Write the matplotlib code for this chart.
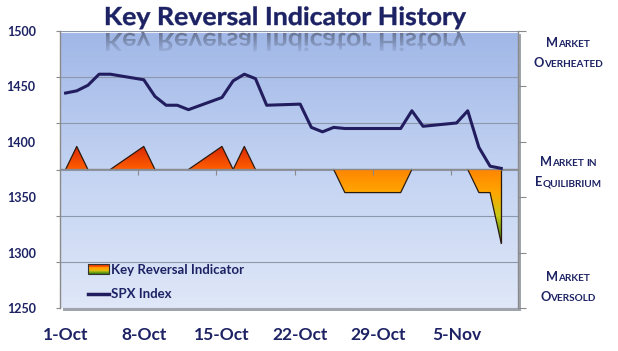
import datetime as dt

import numpy as np
import matplotlib
matplotlib.use("Agg")
import matplotlib.pyplot as plt
import matplotlib.dates as mdates
from matplotlib.colors import LinearSegmentedColormap
from matplotlib.patches import PathPatch, Rectangle
from matplotlib.lines import Line2D
from matplotlib.textpath import TextPath
from matplotlib.font_manager import FontProperties
from matplotlib.transforms import Affine2D
from matplotlib.offsetbox import TextArea, HPacker, VPacker, AnnotationBbox
from matplotlib.legend_handler import HandlerBase

# data
trade_dates = ["2012-10-01", "2012-10-02", "2012-10-03", "2012-10-04", "2012-10-05",
               "2012-10-08", "2012-10-09", "2012-10-10", "2012-10-11", "2012-10-12",
               "2012-10-15", "2012-10-16", "2012-10-17", "2012-10-18", "2012-10-19",
               "2012-10-22", "2012-10-23", "2012-10-24", "2012-10-25", "2012-10-26",
               "2012-10-31", "2012-11-01", "2012-11-02", "2012-11-05", "2012-11-06",
               "2012-11-07", "2012-11-08", "2012-11-09"]
spx = [1444, 1446, 1451, 1461, 1461,
       1456, 1441, 1433, 1433, 1429,
       1440, 1455, 1461, 1457, 1433,
       1434, 1413, 1409, 1413, 1412,
       1412, 1428, 1414, 1417, 1428,
       1395, 1378, 1376]
key_reversal = [0, 0.5, 0, 0, 0,
                0.5, 0, 0, 0, 0,
                0.5, 0, 0.5, 0, 0,
                0, 0, 0, 0, -0.5,
                -0.5, 0, 0, 0, 0,
                -0.5, -0.5, -1.6]
week_starts = ["2012-10-01", "2012-10-08", "2012-10-15", "2012-10-22", "2012-10-29", "2012-11-05"]
week_labels = ["1-Oct", "8-Oct", "15-Oct", "22-Oct", "29-Oct", "5-Nov"]
spx_ticks = [1250, 1300, 1350, 1400, 1450, 1500]
state_labels = [["Market", "Overheated"], ["Market in", "Equilibrium"], ["Market", "Oversold"]]

navy = "#1c2263"
axis_grey = "#8a8a8a"
W, H, DPI = 618, 351, 100
font = "Lato"

fig = plt.figure(figsize=(W / DPI, H / DPI), dpi=DPI)
fig.patch.set_facecolor("white")

# plot area in pixels: left, top, right, bottom
pl, pt, pr, pb = 60, 31, 518, 308
rect = [pl / W, (H - pb) / H, (pr - pl) / W, (pb - pt) / H]

# bevel shadow behind the plot area
fig.add_artist(Rectangle(((pl + 3) / W, (H - pb - 3) / H), (pr - pl) / W, (pb - pt) / H,
                         transform=fig.transFigure, facecolor="#a0a4ac", edgecolor="none", zorder=-1))

bg = fig.add_axes(rect, zorder=0)
grad = np.linspace(0, 1, 256)[:, None]
bg_cmap = LinearSegmentedColormap.from_list("bg", ["#dfe7f8", "#c3d3f2", "#a0b7e7"])
bg.imshow(grad, cmap=bg_cmap, aspect="auto", origin="lower", extent=[0, 1, 0, 1])
bg.axhline(0.997, color="white", lw=1.5, alpha=0.9)
bg.set_xlim(0, 1)
bg.set_ylim(0, 1)
bg.axis("off")

ax = fig.add_axes(rect, zorder=2)
ax.patch.set_visible(False)
ax2 = ax.twinx()
ax2.set_zorder(1)
ax2.patch.set_visible(False)

dates = [dt.date.fromisoformat(d) for d in trade_dates]
x = mdates.date2num(dates) + 0.5
x0 = mdates.date2num(dt.date(2012, 10, 1))
x1 = mdates.date2num(dt.date(2012, 11, 11))
weeks = mdates.date2num([dt.date.fromisoformat(d) for d in week_starts])

# key reversal indicator, gradient filled
kr = np.array(key_reversal, dtype=float)
poly = ax2.fill_between(x, 0, kr, facecolor="none", edgecolor="none", zorder=3)
ind_cmap = LinearSegmentedColormap.from_list(
    "kri", [(0.0, "#2f7a12"), (0.28, "#c8c814"), (0.52, "#ffa600"), (0.755, "#ff8600"),
            (0.765, "#ff5e00"), (1.0, "#da2806")])
im = ax2.imshow(np.linspace(0, 1, 256)[:, None], cmap=ind_cmap, aspect="auto", origin="lower",
                extent=[x0, x1, kr.min(), kr.max()], zorder=3)
im.set_clip_path(poly.get_paths()[0], transform=ax2.transData)
flat = np.zeros(len(kr), dtype=bool)
for i in range(len(kr)):
    prev_zero = i == 0 or kr[i - 1] == 0
    next_zero = i == len(kr) - 1 or kr[i + 1] == 0
    flat[i] = kr[i] == 0 and prev_zero and next_zero
ax2.plot(x, np.ma.masked_array(kr, flat), color="#2a1a10", lw=0.9, zorder=4)
ax2.vlines(x[-1], kr[-1], 0, color="#2a1a10", lw=0.9, zorder=4)

ax2.set_ylim(-3, 3)
ax2.set_yticks(np.arange(-3, 4))
ax2.set_axisbelow(True)
ax2.grid(axis="y", color="#8e98ad", lw=0.8)
ax2.yaxis.set_ticks_position("left")
ax2.tick_params(axis="y", left=True, right=False, labelleft=False, labelright=False,
                length=3, color=axis_grey, direction="out")
for s in ax2.spines.values():
    s.set_visible(False)

# SPX line
ax.plot(x, spx, color="#221d5e", lw=2.2, solid_joinstyle="round", zorder=5)
ax.set_xlim(x0, x1)
ax.set_ylim(spx_ticks[0], spx_ticks[-1])
ax.set_yticks(spx_ticks)
ax.set_yticklabels([str(v) for v in spx_ticks])
ax.tick_params(axis="y", left=False, right=True, labelleft=True, labelright=False,
               length=6, color=axis_grey, direction="out", pad=11.5,
               labelsize=9, labelcolor=navy)
ax.set_xticks(weeks + 0.5)
ax.set_xticklabels(week_labels)
ax.tick_params(axis="x", length=0, pad=14, labelsize=12.5, labelcolor=navy)
for lab in ax.get_yticklabels() + ax.get_xticklabels():
    lab.set_fontfamily(font)
    lab.set_fontweight("bold")
for side in ["top", "bottom"]:
    ax.spines[side].set_visible(False)
for side in ["left", "right"]:
    ax.spines[side].set_color(axis_grey)
    ax.spines[side].set_linewidth(1.0)

# category axis crossing at zero of the indicator
sec = ax.secondary_xaxis(0.5)
sec.set_alignment("bottom")
sec.set_xticks(weeks[1:])
sec.set_xticklabels([])
sec.tick_params(length=4, color=axis_grey, direction="out")
sec.spines["bottom"].set_color(axis_grey)
sec.spines["bottom"].set_linewidth(1.0)


# legend with a gradient swatch
class GradientSwatch(HandlerBase):
    def create_artists(self, legend, orig_handle, xdescent, ydescent, width, height, fontsize, trans):
        n = 12
        arts = []
        for i in range(n):
            c = ind_cmap(1 - (i + 0.5) / n)
            arts.append(Rectangle((-xdescent, -ydescent + height * (1 - (i + 1) / n)), width, height / n,
                                  facecolor=c, edgecolor="none", transform=trans))
        arts.append(Rectangle((-xdescent, -ydescent), width, height, fill=False,
                              edgecolor="#333333", lw=0.8, transform=trans))
        return arts


swatch = Rectangle((0, 0), 1, 1)
line_handle = Line2D([], [], color="#221d5e", lw=2.5)
leg = ax.legend([swatch, line_handle], ["Key Reversal Indicator", "SPX Index"],
                handler_map={swatch: GradientSwatch()},
                loc="lower left", bbox_to_anchor=(0.04, -0.005), frameon=False,
                prop=FontProperties(family=font, weight="bold", size=9.5),
                labelcolor=navy, handlelength=1.6, handletextpad=0.15,
                labelspacing=0.95, borderpad=0.2)

# title with a faded reflection
fp = FontProperties(family=font, weight="bold")
tp = TextPath((0, 0), "Key Reversal Indicator History", size=72, prop=fp)
ext = tp.get_extents()
cap = TextPath((0, 0), "K", size=72, prop=fp).get_extents()
sx = 360 / ext.width
sy = 18 / cap.height
cx, base = 286, H - 25
title_tr = Affine2D().translate(-ext.x0 - ext.width / 2, 0).scale(sx, sy).translate(cx, base)
fig.add_artist(PathPatch(tp, transform=title_tr, facecolor=navy, edgecolor=navy, lw=0.3, zorder=10))

mirror = H - 29
refl_tr = (Affine2D().translate(-ext.x0 - ext.width / 2, 0).scale(sx, -sy)
           .translate(cx, base).translate(0, -2 * (base - mirror)))
refl_patch = PathPatch(tp, transform=refl_tr, facecolor="none", edgecolor="none")
rax = fig.add_axes([0, 0, 1, 1], zorder=6)
rax.axis("off")
rgba = np.zeros((64, 1, 4))
rgba[..., :3] = np.array([0.38, 0.42, 0.54])
rgba[:, 0, 3] = np.linspace(0.05, 0.9, 64)
rim = rax.imshow(rgba, extent=[cx - 200, cx + 200, H - 54, H - 32], origin="lower",
                 aspect="auto", interpolation="bilinear")
rim.set_clip_path(refl_patch)
rax.set_xlim(0, W)
rax.set_ylim(0, H)


# right-hand state labels in small caps
def small_caps(text):
    parts = []
    for k, word in enumerate(text.split(" ")):
        if k:
            parts.append(TextArea(" ", textprops=dict(size=7.2, family=font, weight="bold", color=navy)))
        if word[0].isupper():
            parts.append(TextArea(word[0], textprops=dict(size=9.2, family=font, weight="bold", color=navy)))
            word = word[1:]
        if word:
            parts.append(TextArea(word.upper(), textprops=dict(size=7.2, family=font, weight="bold", color=navy)))
    return HPacker(children=parts, align="baseline", pad=0, sep=0)


for lines, yc in zip(state_labels, [53, 172, 287]):
    box = VPacker(children=[small_caps(t) for t in lines], align="center", pad=0, sep=6)
    fig.add_artist(AnnotationBbox(box, (568 / W, (H - yc) / H), xycoords="figure fraction",
                                  frameon=False, box_alignment=(0.5, 0.5)))

fig.savefig("out.png", dpi=DPI)
